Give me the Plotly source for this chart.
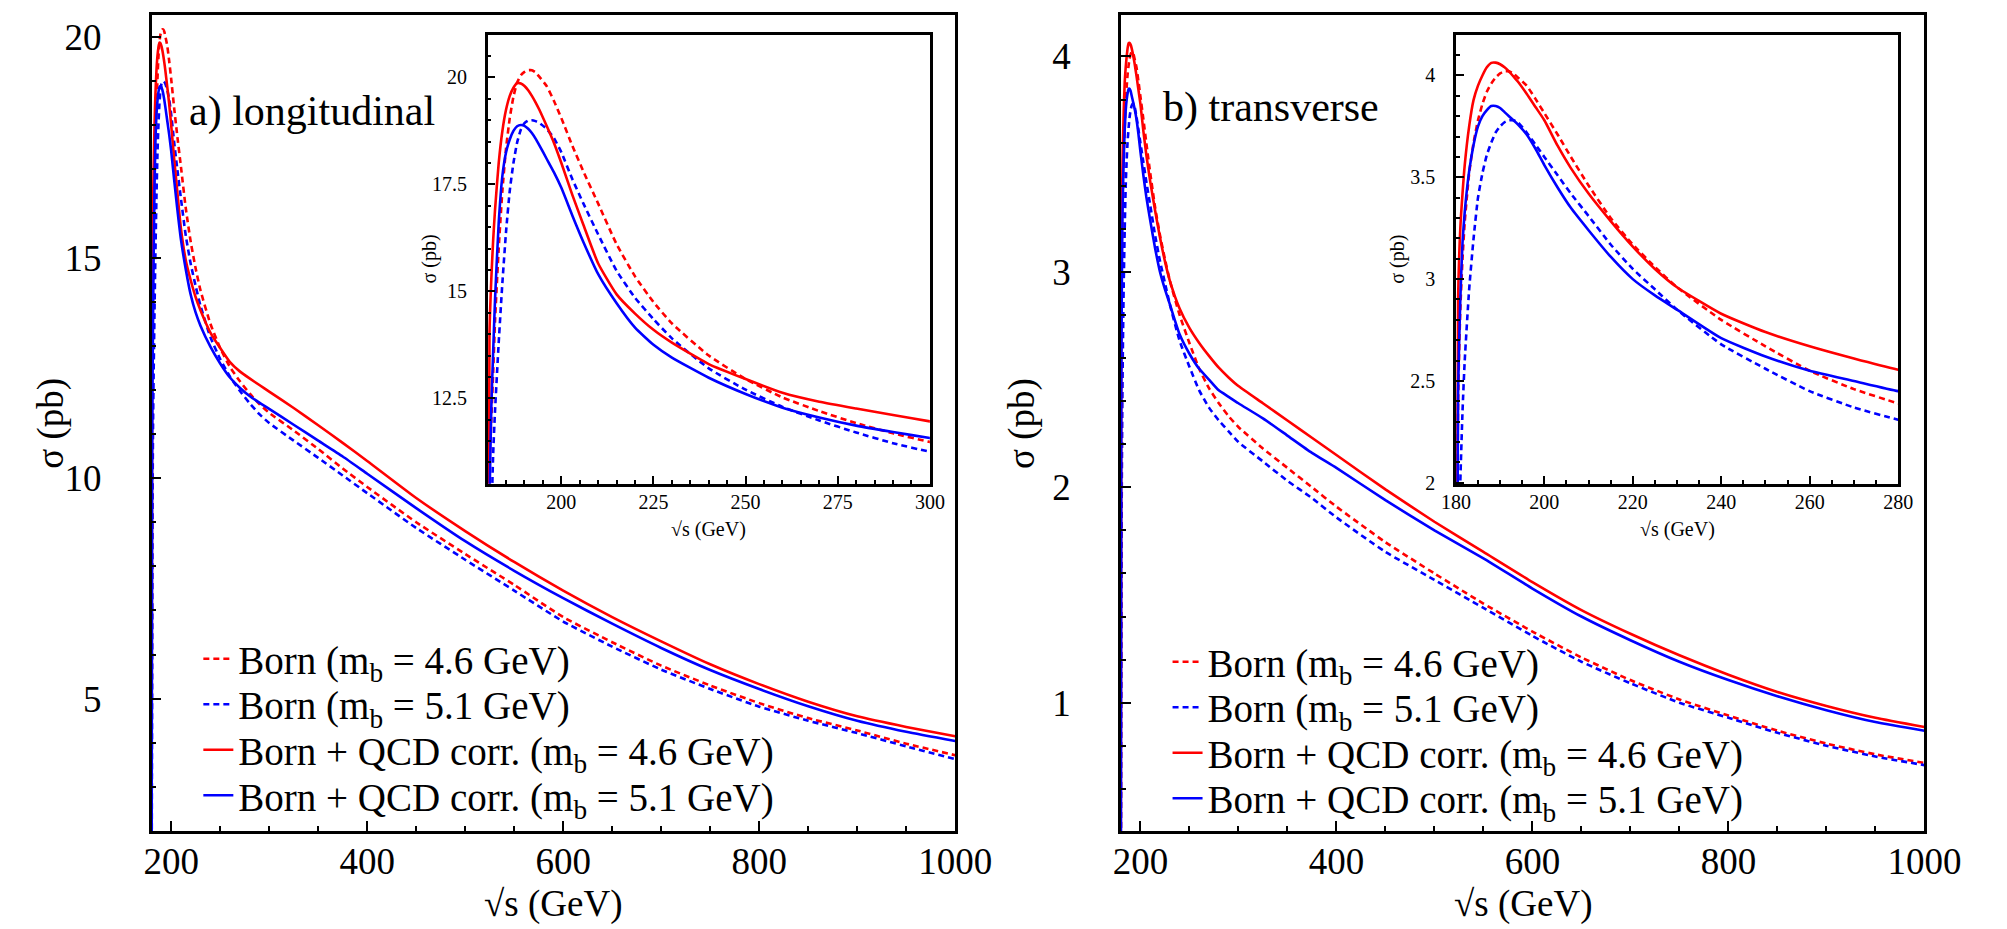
import plotly.graph_objects as go

# ---------------- data ----------------
sqrt_s = [180.0, 180.5, 181, 181.5, 182, 183, 184, 185, 186, 187, 188, 189, 190, 191, 192, 193, 194,
          196, 198, 200, 203, 206, 210, 215, 220, 225, 230, 240, 250, 260, 270, 280, 290, 300,
          325, 350, 375, 400, 450, 500, 550, 600, 650, 700, 750, 800, 850, 900, 950, 1000]

# a) longitudinal
long_born_46 = [0, 10.8, 12.0, 13.1, 14.3, 16.0, 17.35, 18.35, 19.05, 19.55, 19.88, 20.05, 20.13, 20.17, 20.17,
                20.12, 20.02, 19.8, 19.45, 19.05, 18.4, 17.8, 17.05, 16.1, 15.35, 14.75, 14.25, 13.5, 12.95,
                12.52, 12.2, 11.92, 11.68, 11.48, 11.08, 10.66, 10.22, 9.8, 9.0, 8.28, 7.58, 6.85, 6.28,
                5.75, 5.3, 4.9, 4.56, 4.28, 3.98, 3.72]
long_born_51 = [0, 5.0, 9.5, 11.2, 12.2, 13.8, 15.2, 16.4, 17.35, 18.0, 18.48, 18.78, 18.93, 18.99, 19.0,
                18.98, 18.94, 18.8, 18.58, 18.25, 17.62, 17.05, 16.33, 15.48, 14.85, 14.35, 13.9, 13.2, 12.7,
                12.3, 11.98, 11.7, 11.45, 11.25, 10.85, 10.46, 10.06, 9.66, 8.87, 8.15, 7.45, 6.75, 6.18,
                5.66, 5.22, 4.82, 4.5, 4.22, 3.92, 3.63]
long_qcd_46 = [0, 14.0, 15.3, 16.2, 16.9, 18.0, 18.75, 19.25, 19.57, 19.76, 19.87, 19.86, 19.8, 19.7, 19.57,
               19.42, 19.25, 18.87, 18.47, 18.0, 17.25, 16.55, 15.65, 14.93, 14.48, 14.1, 13.8, 13.3, 12.95,
               12.63, 12.42, 12.26, 12.11, 11.96, 11.59, 11.2, 10.8, 10.39, 9.55, 8.8, 8.1, 7.45, 6.85,
               6.3, 5.78, 5.33, 4.93, 4.6, 4.36, 4.15]
long_qcd_51 = [0, 10.0, 12.3, 13.6, 14.8, 16.6, 17.7, 18.25, 18.55, 18.75, 18.86, 18.89, 18.87, 18.8, 18.7,
               18.57, 18.42, 18.1, 17.78, 17.42, 16.77, 16.15, 15.4, 14.72, 14.15, 13.75, 13.45, 12.98, 12.6,
               12.28, 12.05, 11.86, 11.71, 11.57, 11.21, 10.85, 10.49, 10.1, 9.32, 8.57, 7.9, 7.28, 6.7,
               6.15, 5.65, 5.22, 4.83, 4.5, 4.25, 4.04]

# b) transverse
trans_born_46 = [0, 2.4, 2.85, 3.1, 3.28, 3.52, 3.67, 3.78, 3.86, 3.92, 3.96, 3.99, 4.01, 4.02, 4.02,
                 4.01, 3.99, 3.95, 3.885, 3.815, 3.71, 3.6, 3.46, 3.3, 3.17, 3.06, 2.96, 2.8, 2.67,
                 2.55, 2.46, 2.39, 2.33, 2.28, 2.18, 2.09, 2.0, 1.91, 1.745, 1.6, 1.46, 1.33, 1.21,
                 1.105, 1.015, 0.94, 0.87, 0.81, 0.76, 0.72]
trans_born_51 = [0, 1.2, 2.0, 2.35, 2.6, 2.95, 3.2, 3.4, 3.52, 3.61, 3.67, 3.72, 3.75, 3.77, 3.78,
                 3.78, 3.77, 3.72, 3.66, 3.6, 3.51, 3.42, 3.31, 3.17, 3.05, 2.95, 2.85, 2.68, 2.56,
                 2.45, 2.37, 2.31, 2.26, 2.21, 2.12, 2.03, 1.95, 1.86, 1.7, 1.57, 1.44, 1.31, 1.19,
                 1.09, 1.0, 0.93, 0.86, 0.8, 0.75, 0.71]
trans_qcd_46 = [0, 2.9, 3.25, 3.42, 3.56, 3.75, 3.88, 3.95, 4.0, 4.04, 4.062, 4.063, 4.055, 4.04, 4.02,
                3.995, 3.97, 3.91, 3.845, 3.78, 3.655, 3.545, 3.42, 3.285, 3.16, 3.05, 2.96, 2.83, 2.74,
                2.67, 2.61, 2.555, 2.51, 2.47, 2.39, 2.31, 2.23, 2.15, 1.99, 1.84, 1.7, 1.56, 1.43,
                1.32, 1.22, 1.13, 1.05, 0.985, 0.93, 0.887]
trans_qcd_51 = [0, 2.45, 2.9, 3.18, 3.33, 3.53, 3.66, 3.75, 3.8, 3.83, 3.85, 3.85, 3.84, 3.82, 3.8,
                3.78, 3.76, 3.71, 3.64, 3.56, 3.45, 3.35, 3.24, 3.11, 3.0, 2.92, 2.85, 2.71, 2.62,
                2.55, 2.5, 2.45, 2.42, 2.39, 2.32, 2.24, 2.16, 2.09, 1.94, 1.8, 1.67, 1.53, 1.4,
                1.29, 1.19, 1.105, 1.03, 0.965, 0.91, 0.87]

series_names = ["Born (m<sub>b</sub> = 4.6 GeV)", "Born (m<sub>b</sub> = 5.1 GeV)",
                "Born + QCD corr. (m<sub>b</sub> = 4.6 GeV)", "Born + QCD corr. (m<sub>b</sub> = 5.1 GeV)"]
panel_labels = ["a) longitudinal", "b) transverse"]
x_title = "√s (GeV)"
y_title = "σ (pb)"

# ---------------- styling ----------------
FONT = "Liberation Serif"
W, H = 2007, 929
colors = ["#ff0000", "#0000ff", "#ff0000", "#0000ff"]
dashes = ["6px,4px", "6px,4px", "solid", "solid"]


def fx(p):
    return p / W


def fy(p):
    return 1 - p / H


fig = go.Figure()

# one single-entry legend per row so the rows can sit exactly where the reference has them
legend_ids = [["legend", "legend2", "legend3", "legend4"], ["legend5", "legend6", "legend7", "legend8"]]
legend_rows_y = [[658, 704, 750, 796], [661, 707, 753, 799]]
legend_x = [180, 1175]

panels = [
    ([long_born_46, long_born_51, long_qcd_46, long_qcd_51], "x", "y", "x3", "y3"),
    ([trans_born_46, trans_born_51, trans_qcd_46, trans_qcd_51], "x2", "y2", "x4", "y4"),
]
for p, (series, xm, ym, xi, yi) in enumerate(panels):
    for k, (vals, name, c, d) in enumerate(zip(series, series_names, colors, dashes)):
        fig.add_trace(go.Scatter(x=sqrt_s, y=vals, mode="lines", name=name, legend=legend_ids[p][k],
                                 line=dict(color=c, width=2.6, dash=d, shape="spline", smoothing=0.5),
                                 xaxis=xm, yaxis=ym))
    for vals, name, c, d in zip(series, series_names, colors, dashes):
        fig.add_trace(go.Scatter(x=sqrt_s, y=vals, mode="lines", name=name, showlegend=False,
                                 line=dict(color=c, width=2.6, dash=d, shape="spline", smoothing=0.5),
                                 xaxis=xi, yaxis=yi))


def axis(rng, domain, anchor, dtick, mdtick, tsize, tlen, mlen, standoff):
    return dict(range=rng, domain=domain, anchor=anchor, showline=True, mirror=True,
                linecolor="black", linewidth=2.5, ticks="inside", ticklen=tlen, tickwidth=2,
                tickcolor="black", dtick=dtick, tick0=0, showgrid=False, zeroline=False,
                minor=dict(dtick=mdtick, tick0=0, ticks="inside", ticklen=mlen, tickwidth=1.5,
                           tickcolor="black", showgrid=False),
                tickfont=dict(family=FONT, size=tsize, color="black"), ticklabelstandoff=standoff)


main_y_dom = [fy(832), fy(7)]
inset_y_dom = [fy(481), fy(27)]

layout = dict(
    width=W, height=H, margin=dict(l=0, r=0, t=0, b=0),
    paper_bgcolor="white", plot_bgcolor="white",
    font=dict(family=FONT, color="black"),
    xaxis=axis([180, 1000], [fx(132), fx(957)], "y", 200, 50, 37, 10, 5, -4),
    yaxis=axis([2.0, 20.5], main_y_dom, "x", 5, 1, 37, 10, 5, 40),
    xaxis2=axis([180, 1000], [fx(1127), fx(1952)], "y2", 200, 50, 37, 10, 5, -4),
    yaxis2=axis([0.404, 4.193], main_y_dom, "x2", 1, 0.2, 37, 10, 5, 40),
    xaxis3=axis([180, 300], [fx(477), fx(931)], "y3", 25, 5, 20, 8, 4, -2),
    yaxis3=axis([10.5, 21.0], inset_y_dom, "x3", 2.5, 0.5, 20, 8, 4, 14),
    xaxis4=axis([180, 280], [fx(1471), fx(1925)], "y4", 20, 5, 20, 8, 4, -2),
    yaxis4=axis([1.995, 4.2], inset_y_dom, "x4", 0.5, 0.1, 20, 8, 4, 14),
    showlegend=True,
)
for p in range(2):
    for k in range(4):
        layout[legend_ids[p][k]] = dict(
            x=fx(legend_x[p]), y=fy(legend_rows_y[p][k]), xanchor="left", yanchor="middle",
            bgcolor="rgba(0,0,0,0)", borderwidth=0,
            font=dict(family=FONT, size=39, color="black"))
fig.update_layout(**layout)


def label(text, xc, yc, size, angle=0):
    fig.add_annotation(text=text, x=fx(xc), y=fy(yc), xref="paper", yref="paper", textangle=angle,
                       xanchor="center", yanchor="middle", showarrow=False,
                       font=dict(family=FONT, size=size, color="black"))


# panel labels
label(panel_labels[0], 296.5, 105, 42)
label(panel_labels[1], 1281.5, 101, 42)
# main axis titles
label(x_title, 544.5, 906, 37)
label(x_title, 1539.5, 906, 37)
label(y_title, 29, 420, 37, -90)
label(y_title, 1026, 420, 37, -90)
# inset axis titles
label(x_title, 704, 527, 20)
label(x_title, 1698, 527, 20)
label(y_title, 417, 254, 20, -90)
label(y_title, 1411, 254, 20, -90)

fig.write_html("out.html")
